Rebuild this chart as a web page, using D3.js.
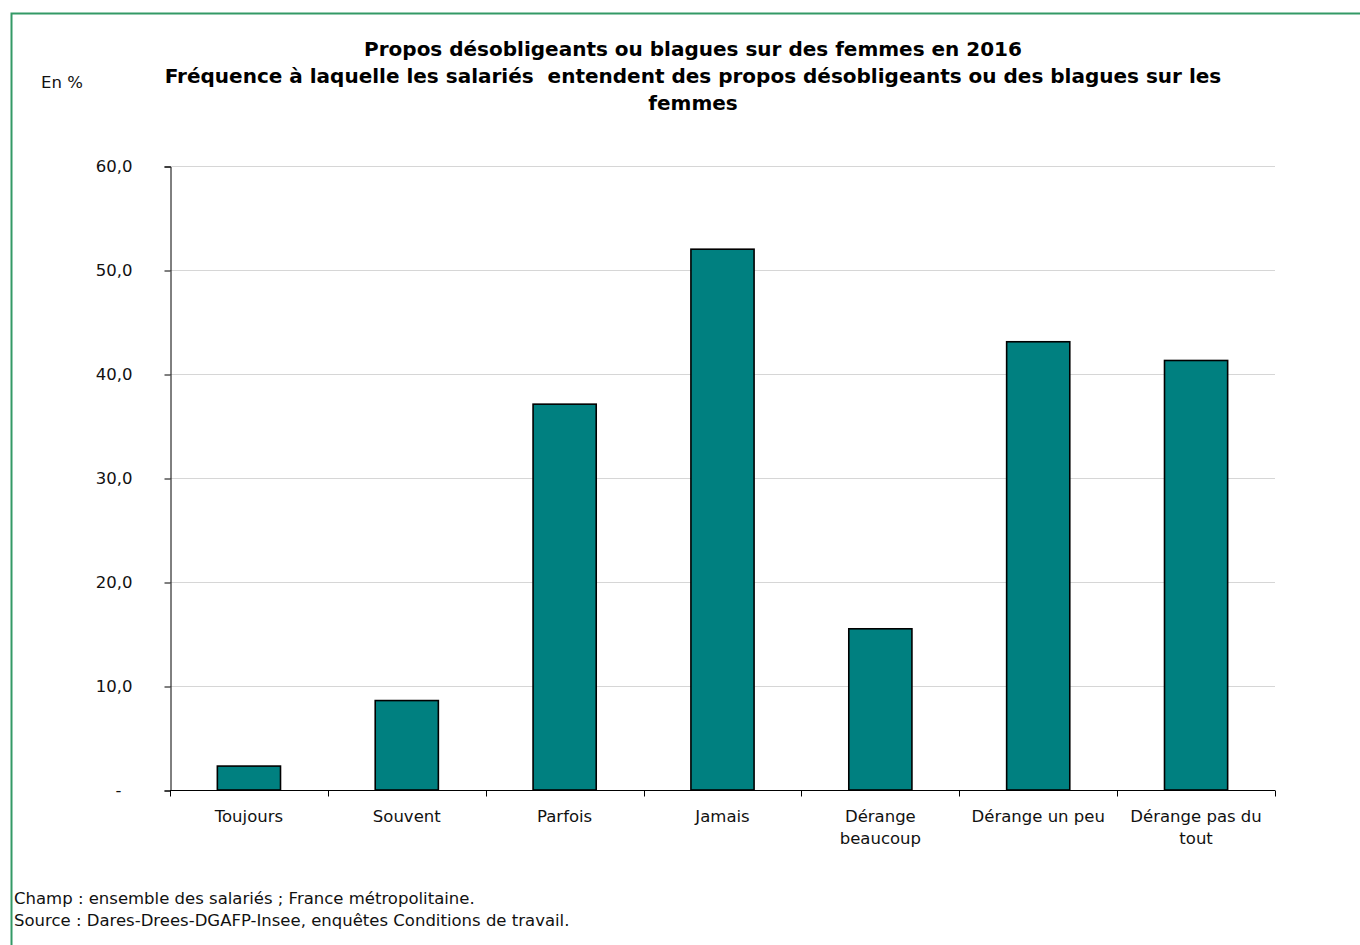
<!DOCTYPE html>
<html>
<head>
<meta charset="utf-8">
<script src="https://cdn.jsdelivr.net/npm/d3@7"></script>
<style>
    body { margin: 0; background: #fff; }
    svg { display: block; font-family: 'DejaVu Sans', Verdana, sans-serif; }
</style>
</head>
<body>
<div id="chart"></div>
<script>
const categories = ['Toujours', 'Souvent', 'Parfois', 'Jamais', 'Dérange beaucoup', 'Dérange un peu', 'Dérange pas du tout'];
const categoryLines = [['Toujours'], ['Souvent'], ['Parfois'], ['Jamais'], ['Dérange', 'beaucoup'], ['Dérange un peu'], ['Dérange pas du', 'tout']];
const values = [2.3, 8.6, 37.1, 52.0, 15.5, 43.1, 41.3];
const yTicks = [0, 10, 20, 30, 40, 50, 60];
const titleLines = [
    'Propos désobligeants ou blagues sur des femmes en 2016',
    'Fréquence à laquelle les salariés  entendent des propos désobligeants ou des blagues sur les',
    'femmes',
];
const footLines = [
    'Champ : ensemble des salariés ; France métropolitaine.',
    'Source : Dares-Drees-DGAFP-Insee, enquêtes Conditions de travail.',
];

const W = 1360, H = 945;
const margin = { left: 170, right: 85, top: 166, bottom: 155 };
const width = W - margin.left - margin.right;
const height = H - margin.top - margin.bottom;
const fontSize = 16.5;

const svg = d3.select('#chart').append('svg')
    .attr('width', W)
    .attr('height', H);

// frame
svg.append('path')
    .attr('d', `M11.5,${H + 5}V13.5H${W + 5}`)
    .attr('fill', 'none')
    .attr('stroke', '#339966')
    .attr('stroke-width', 2);

svg.append('g')
    .selectAll('text')
    .data(titleLines)
    .enter()
    .append('text')
    .attr('x', 693)
    .attr('y', (d, i) => 56 + i * 27)
    .attr('text-anchor', 'middle')
    .attr('font-size', 20)
    .attr('font-weight', 'bold')
    .style('white-space', 'pre')
    .text(d => d);

svg.append('text')
    .attr('x', 41)
    .attr('y', 88)
    .attr('font-size', fontSize)
    .attr('fill', '#111')
    .text('En %');

const g = svg.append('g')
    .attr('transform', `translate(${margin.left}, ${margin.top})`);

const x = d3.scaleBand()
    .range([0, width])
    .domain(categories)
    .paddingInner(0.6)
    .paddingOuter(0.3);

const y = d3.scaleLinear()
    .domain([0, 60])
    .range([height, 0]);

// grid
g.append('g')
    .selectAll('line')
    .data(yTicks.filter(d => d > 0))
    .enter()
    .append('line')
    .attr('x1', 0)
    .attr('x2', width)
    .attr('y1', d => y(d) + 0.5)
    .attr('y2', d => y(d) + 0.5)
    .attr('stroke', '#d6d6d6');

g.selectAll('rect')
    .data(values)
    .enter()
    .append('rect')
    .attr('x', (d, i) => x(categories[i]))
    .attr('y', d => y(d))
    .attr('width', x.bandwidth())
    .attr('height', d => height - y(d))
    .attr('fill', '#008080')
    .attr('stroke', '#000')
    .attr('stroke-width', 1.6);

// y axis
g.append('g')
    .attr('transform', 'translate(0.5,0.5)')
    .call(d3.axisLeft(y).tickValues(yTicks).tickSize(6).tickPadding(32)
        .tickFormat(d => d === 0 ? '-' : d3.format('.1f')(d).replace('.', ',')))
    .call(a => a.selectAll('text').attr('font-size', fontSize).attr('fill', '#111').attr('font-family', 'DejaVu Sans, Verdana, sans-serif'))
    .call(a => a.selectAll('.tick').filter(d => d === 0).select('text').attr('dx', -11))
    .call(a => a.selectAll('line, path').attr('stroke', '#000'));

// x axis
const xAxis = g.append('g')
    .attr('transform', `translate(0,${height + 0.5})`);
xAxis.append('line')
    .attr('x1', 0)
    .attr('x2', width)
    .attr('stroke', '#000');
xAxis.selectAll('.tick')
    .data(d3.range(categories.length + 1))
    .enter()
    .append('line')
    .attr('x1', i => Math.round(i * width / categories.length) + 0.5)
    .attr('x2', i => Math.round(i * width / categories.length) + 0.5)
    .attr('y1', 0)
    .attr('y2', 6)
    .attr('stroke', '#000');

xAxis.selectAll('.lbl')
    .data(categoryLines)
    .enter()
    .append('text')
    .attr('text-anchor', 'middle')
    .attr('font-size', fontSize)
    .attr('fill', '#111')
    .each(function (lines, i) {
        d3.select(this).selectAll('tspan')
            .data(lines)
            .enter()
            .append('tspan')
            .attr('x', x(categories[i]) + x.bandwidth() / 2)
            .attr('y', (d, j) => 31 + j * 22)
            .text(d => d);
    });

svg.append('g')
    .selectAll('text')
    .data(footLines)
    .enter()
    .append('text')
    .attr('x', 14)
    .attr('y', (d, i) => 904 + i * 22)
    .attr('font-size', fontSize)
    .attr('fill', '#111')
    .text(d => d);
</script>
</body>
</html>
